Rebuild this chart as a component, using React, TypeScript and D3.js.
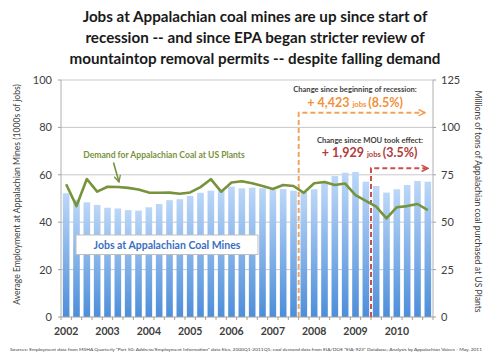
import * as d3 from "d3";

// quarterly, 2002Q1 .. 2010Q4
const years = ["2002", "2003", "2004", "2005", "2006", "2007", "2008", "2009", "2010"];
const quarters = years.flatMap((y) => ["Q1", "Q2", "Q3", "Q4"].map((q) => y + q));

// employment at Appalachian mines, thousands of jobs
const jobs = [
  52.2, 49.5, 48.4, 47.3, 46.1, 45.8, 45.1, 44.9, 46.3, 47.7, 49.3, 49.7,
  51.1, 52.4, 53.3, 53.3, 55.0, 54.3, 54.6, 54.3, 53.6, 54.0, 53.3, 52.8,
  53.9, 56.7, 59.5, 60.9, 61.2, 57.1, 55.3, 52.5, 53.9, 55.7, 57.4, 57.1,
];

// demand at US plants, million tons
const demand = [
  70.0, 58.5, 72.8, 66.1, 68.7, 68.6, 68.1, 67.2, 65.6, 65.5, 65.6, 65.0,
  65.7, 68.5, 72.7, 66.1, 70.9, 71.6, 70.5, 69.1, 67.5, 69.6, 69.1, 65.5,
  70.5, 71.2, 69.6, 70.4, 64.3, 61.3, 58.2, 52.0, 57.9, 58.5, 59.6, 56.4,
];

const leftTicks = [0, 20, 40, 60, 80, 100];
const rightTicks = [0, 25, 50, 75, 100, 125];

const titleLines = [
  "Jobs at Appalachian coal mines are up since start of",
  "recession -- and since EPA began stricter review of",
  "mountaintop removal permits -- despite falling demand",
];

const recessionStart = "2007Q4";
const mouStart = "2009Q3";

const font = "Lato, 'Open Sans', sans-serif";

export default function App() {
  const W = 500, H = 359;
  const left = 61, right = 433, top = 80, bottom = 317;

  const x = d3.scaleBand().domain(quarters).range([left, right]).paddingInner(0.36).paddingOuter(0.18);
  const yL = d3.scaleLinear().domain([0, 100]).range([bottom, top]);
  const yR = d3.scaleLinear().domain([0, 125]).range([bottom, top]);

  const gapOf = (q: string) => x(q)! - (x.step() - x.bandwidth()) / 2;
  const cx = (i: number) => x(quarters[i])! + x.bandwidth() / 2;

  const line = d3.line<number>().x((_, i) => cx(i)).y((d) => yR(d));

  const xRec = gapOf(recessionStart);
  const xMou = gapOf(mouStart);

  return (
    <svg width={W} height={H} style={{ position: "absolute", left: 0, top: 0, background: "#fff" }} fontFamily={font}>
      <defs>
        <linearGradient id="barGrad" x1="0" y1="0" x2="0" y2="1">
          <stop offset="0%" stopColor="#bcd7f8" />
          <stop offset="100%" stopColor="#4d8ed9" />
        </linearGradient>
        <marker id="arrOrange" viewBox="0 0 10 10" refX="9" refY="5" markerWidth="4" markerHeight="4" orient="auto">
          <path d="M1,1 L9,5 L1,9" fill="none" stroke="#f5a35a" strokeWidth="2" />
        </marker>
        <marker id="arrRed" viewBox="0 0 10 10" refX="9" refY="5" markerWidth="4" markerHeight="4" orient="auto">
          <path d="M1,1 L9,5 L1,9" fill="none" stroke="#c9504d" strokeWidth="2" />
        </marker>
        <marker id="arrGreen" viewBox="0 0 10 10" refX="9" refY="5" markerWidth="5" markerHeight="5" orient="auto">
          <path d="M1,1 L9,5 L1,9" fill="none" stroke="#77933c" strokeWidth="1.6" />
        </marker>
      </defs>

      {/* title */}
      {titleLines.map((t, i) => (
        <text key={i} x={255} y={22 + i * 21} textAnchor="middle" fontSize={15.2} fontWeight="bold" fill="#1a1a1a">
          {t}
        </text>
      ))}

      {/* gridlines */}
      {leftTicks.filter((t) => t > 0).map((t) => (
        <line key={t} x1={left} x2={right} y1={yL(t)} y2={yL(t)} stroke="#c8c8c8" strokeWidth={1} />
      ))}
      <line x1={left} x2={left} y1={top} y2={bottom} stroke="#b0b0b0" />
      <line x1={right} x2={right} y1={top} y2={bottom} stroke="#b0b0b0" />

      {/* bars */}
      {jobs.map((v, i) => (
        <rect key={i} x={x(quarters[i])} y={yL(v)} width={x.bandwidth()} height={bottom - yL(v)} fill="url(#barGrad)" />
      ))}

      <line x1={left} x2={right} y1={bottom} y2={bottom} stroke="#a0a0a0" />
      {quarters.map((q) => (
        <line key={q} x1={gapOf(q)} x2={gapOf(q)} y1={bottom} y2={bottom + 3} stroke="#a0a0a0" />
      ))}
      <line x1={right} x2={right} y1={bottom} y2={bottom + 3} stroke="#a0a0a0" />

      {/* axis ticks + labels */}
      {leftTicks.map((t) => (
        <g key={t}>
          <line x1={left - 3} x2={left} y1={yL(t)} y2={yL(t)} stroke="#a0a0a0" />
          <text x={52} y={yL(t) + 4} textAnchor="end" fontSize={11} fill="#404040">{t}</text>
        </g>
      ))}
      {rightTicks.map((t) => (
        <g key={t}>
          <line x1={right} x2={right + 3} y1={yR(t)} y2={yR(t)} stroke="#a0a0a0" />
          <text x={441} y={yR(t) + 4} fontSize={11} fill="#404040">{t}</text>
        </g>
      ))}
      {years.map((y) => (
        <text key={y} x={cx(quarters.indexOf(y + "Q1"))} y={335} textAnchor="middle" fontSize={10.5} fontWeight="bold" fill="#404040">
          {y}
        </text>
      ))}

      <text transform="translate(20,194.5) rotate(-90)" textAnchor="middle" fontSize={8.6} fill="#404040">
        Average Employment at Appalachian Mines (1000s of jobs)
      </text>
      <text transform="translate(475,201.5) rotate(90)" textAnchor="middle" fontSize={8.6} fill="#404040">
        Millions of tons of Appalachian coal purchased at US Plants
      </text>

      {/* dashed markers */}
      <path d={`M${xRec},${bottom} V112.7 H425`} fill="none" stroke="#f5a35a" strokeWidth={2} strokeDasharray="5,3" markerEnd="url(#arrOrange)" />
      <path d={`M${xMou},${bottom} V168.3 H428`} fill="none" stroke="#c9504d" strokeWidth={2} strokeDasharray="5,3" markerEnd="url(#arrRed)" />

      {/* demand line */}
      <path d={line(demand)!} fill="none" stroke="#77933c" strokeWidth={2.6} strokeLinejoin="round" />

      {/* labels */}
      <text x={164} y={157.5} textAnchor="middle" fontSize={8.6} fontWeight="bold" fill="#77933c">
        Demand for Appalachian Coal at US Plants
      </text>
      <line x1={113.5} y1={162.5} x2={119} y2={182} stroke="#77933c" strokeWidth={1.6} markerEnd="url(#arrGreen)" />

      <rect x={76} y={235} width={182} height={19.5} fill="#fff" stroke="#bfbfbf" />
      <text x={167} y={248.8} textAnchor="middle" fontSize={10.5} fontWeight="bold" fill="#3a6fbf">
        Jobs at Appalachian Coal Mines
      </text>

      <text x={355} y={92} textAnchor="middle" fontSize={7.6} fontWeight="bold" fill="#404040">
        Change since beginning of recession:
      </text>
      <text x={355} y={107} textAnchor="middle" fontWeight="bold" fill="#f0913a">
        <tspan fontSize={12.5}>+ 4,423 </tspan>
        <tspan fontSize={7.6}>jobs </tspan>
        <tspan fontSize={12.5}>(8.5%)</tspan>
      </text>
      <text x={370} y={143} textAnchor="middle" fontSize={7.6} fontWeight="bold" fill="#404040">
        Change since MOU took effect:
      </text>
      <text x={369.5} y={157} textAnchor="middle" fontWeight="bold" fill="#b23b3b">
        <tspan fontSize={12.5}>+ 1,929 </tspan>
        <tspan fontSize={7.6}>jobs </tspan>
        <tspan fontSize={12.5}>(3.5%)</tspan>
      </text>

      <text x={10} y={351} fontSize={4.6} fill="#404040" textLength={472} lengthAdjust="spacingAndGlyphs">
        Sources: Employment data from MSHA Quarterly "Part 50: Address/Employment Information" data files, 2000Q1-2011Q1; coal demand data from EIA/DOE "EIA-923" Database; Analysis by Appalachian Voices - May, 2011
      </text>
    </svg>
  );
}
